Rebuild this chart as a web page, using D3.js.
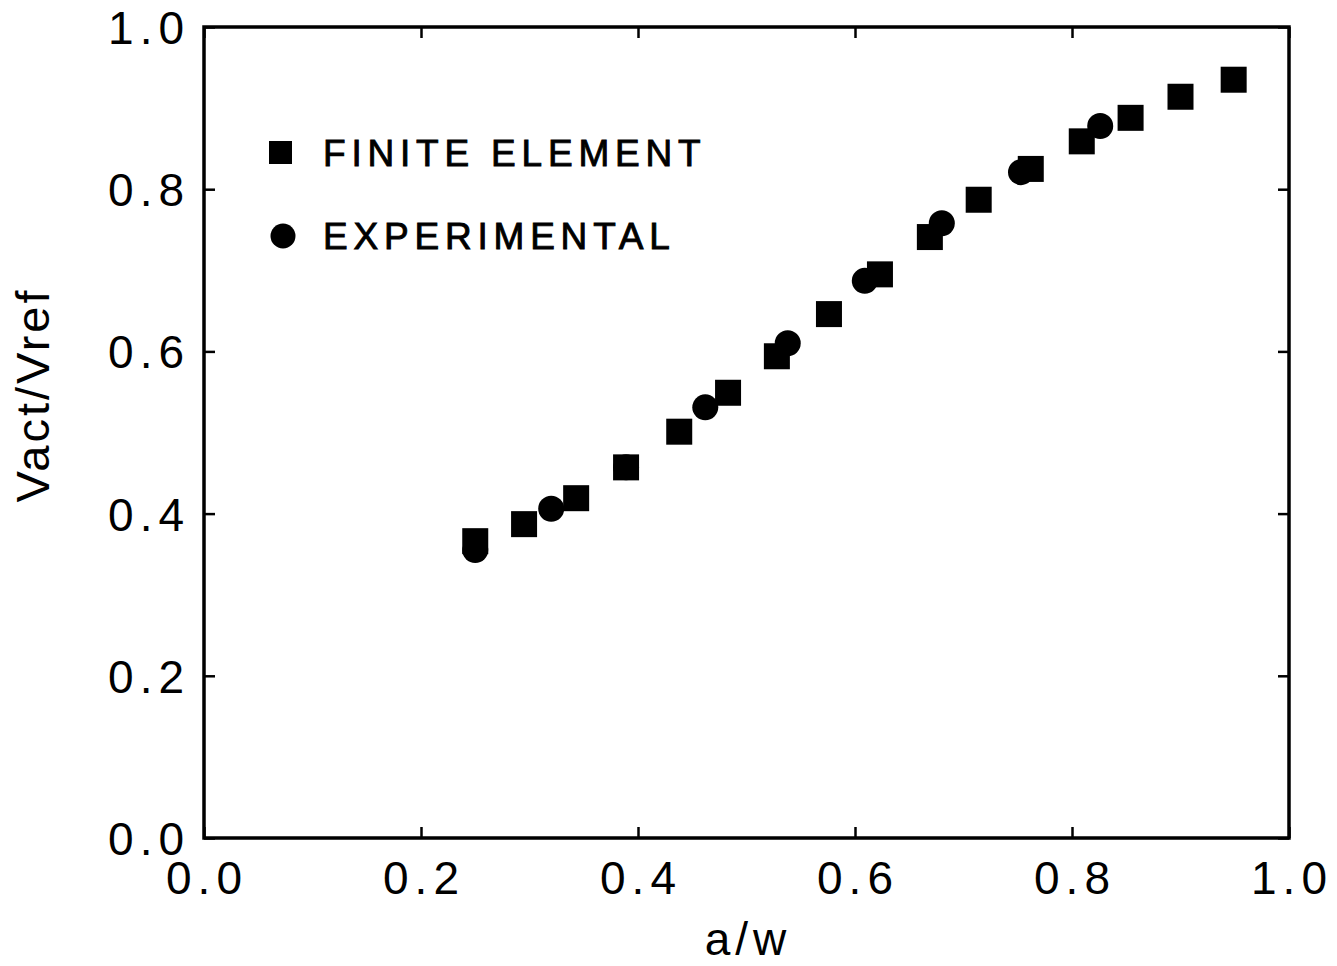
<!DOCTYPE html>
<html>
<head>
<meta charset="utf-8">
<script src="https://cdn.jsdelivr.net/npm/d3@7/dist/d3.min.js"></script>
<style>
  html, body { margin: 0; padding: 0; background: #fff; }
  svg { display: block; }
  text { font-family: "Liberation Sans", Arial, sans-serif; fill: #000; }
</style>
</head>
<body>
<svg id="chart" width="1337" height="966"></svg>
<script>
// ---- data ----
const feX  = [0.250, 0.295, 0.343, 0.389, 0.438, 0.483, 0.528, 0.576, 0.623, 0.669, 0.714, 0.762, 0.809, 0.854, 0.900, 0.949];
const feY  = [0.366, 0.387, 0.419, 0.457, 0.501, 0.549, 0.594, 0.646, 0.695, 0.741, 0.787, 0.825, 0.859, 0.888, 0.914, 0.935];
const expX = [0.250, 0.320, 0.389, 0.462, 0.538, 0.609, 0.680, 0.753, 0.826];
const expY = [0.355, 0.406, 0.457, 0.531, 0.610, 0.687, 0.758, 0.821, 0.878];
const xTicks = [0.0, 0.2, 0.4, 0.6, 0.8, 1.0];
const yTicks = [0.0, 0.2, 0.4, 0.6, 0.8, 1.0];
const seriesNames = ["FINITE ELEMENT", "EXPERIMENTAL"];
const xTitle = "a/w";
const yTitle = "Vact/Vref";

// ---- layout ----
const L = 204, R = 1289, T = 27, B = 838;
const svg = d3.select("#chart");
const x = d3.scaleLinear().domain([0, 1]).range([L, R]);
const y = d3.scaleLinear().domain([0, 1]).range([B, T]);
const fmt = d3.format(".1f");
const tickLen = 11;

// ticks (inward, all four sides)
const g = svg.append("g");
g.append("g").attr("transform", `translate(0,${B})`)
  .call(d3.axisTop(x).tickValues(xTicks).tickSize(tickLen).tickFormat(""));
g.append("g").attr("transform", `translate(0,${T})`)
  .call(d3.axisBottom(x).tickValues(xTicks).tickSize(tickLen).tickFormat(""));
g.append("g").attr("transform", `translate(${L},0)`)
  .call(d3.axisRight(y).tickValues(yTicks).tickSize(tickLen).tickFormat(""));
g.append("g").attr("transform", `translate(${R},0)`)
  .call(d3.axisLeft(y).tickValues(yTicks).tickSize(tickLen).tickFormat(""));
g.selectAll(".domain").remove();
g.selectAll(".tick line").attr("stroke", "#000").attr("stroke-width", 2.5);

// frame
svg.append("rect")
  .attr("x", x(0)).attr("y", y(1))
  .attr("width", x(1) - x(0)).attr("height", y(0) - y(1))
  .attr("fill", "none").attr("stroke", "#000").attr("stroke-width", 3.5);

// tick labels
svg.append("g").selectAll("text").data(xTicks).join("text")
  .attr("x", d => x(d) + 3).attr("y", B + 56)
  .attr("text-anchor", "middle")
  .attr("font-size", 46).attr("letter-spacing", 6)
  .text(d => fmt(d));
svg.append("g").selectAll("text").data(yTicks).join("text")
  .attr("x", L - 14).attr("y", d => y(d) + 17)
  .attr("text-anchor", "end")
  .attr("font-size", 46).attr("letter-spacing", 6)
  .text(d => fmt(d));

// axis titles
svg.append("text")
  .attr("x", 748).attr("y", 955)
  .attr("text-anchor", "middle")
  .attr("font-size", 46).attr("letter-spacing", 5)
  .text(xTitle);
svg.append("text")
  .attr("transform", `translate(49,${395}) rotate(-90)`)
  .attr("text-anchor", "middle")
  .attr("font-size", 47).attr("letter-spacing", 3)
  .text(yTitle);

// data
const sq = 26, rad = 13;
const expData = expX.map((v, i) => ({x: v, y: expY[i]}));
const feData = feX.map((v, i) => ({x: v, y: feY[i]}));
svg.append("g").selectAll("circle").data(expData).join("circle")
  .attr("cx", d => x(d.x)).attr("cy", d => y(d.y)).attr("r", rad)
  .attr("fill", "#000");
svg.append("g").selectAll("rect").data(feData).join("rect")
  .attr("x", d => x(d.x) - sq / 2).attr("y", d => y(d.y) - sq / 2)
  .attr("width", sq).attr("height", sq)
  .attr("fill", "#000");

// legend
const leg = svg.append("g");
leg.append("rect").attr("x", 269).attr("y", 141).attr("width", 23).attr("height", 23).attr("fill", "#000");
leg.append("circle").attr("cx", 283).attr("cy", 236).attr("r", 12.5).attr("fill", "#000");
leg.selectAll("text").data(seriesNames).join("text")
  .attr("x", 323).attr("y", (d, i) => 166 + i * 83)
  .attr("font-size", 37).attr("letter-spacing", 5.8)
  .attr("stroke", "#000").attr("stroke-width", 0.9)
  .text(d => d);
</script>
</body>
</html>
